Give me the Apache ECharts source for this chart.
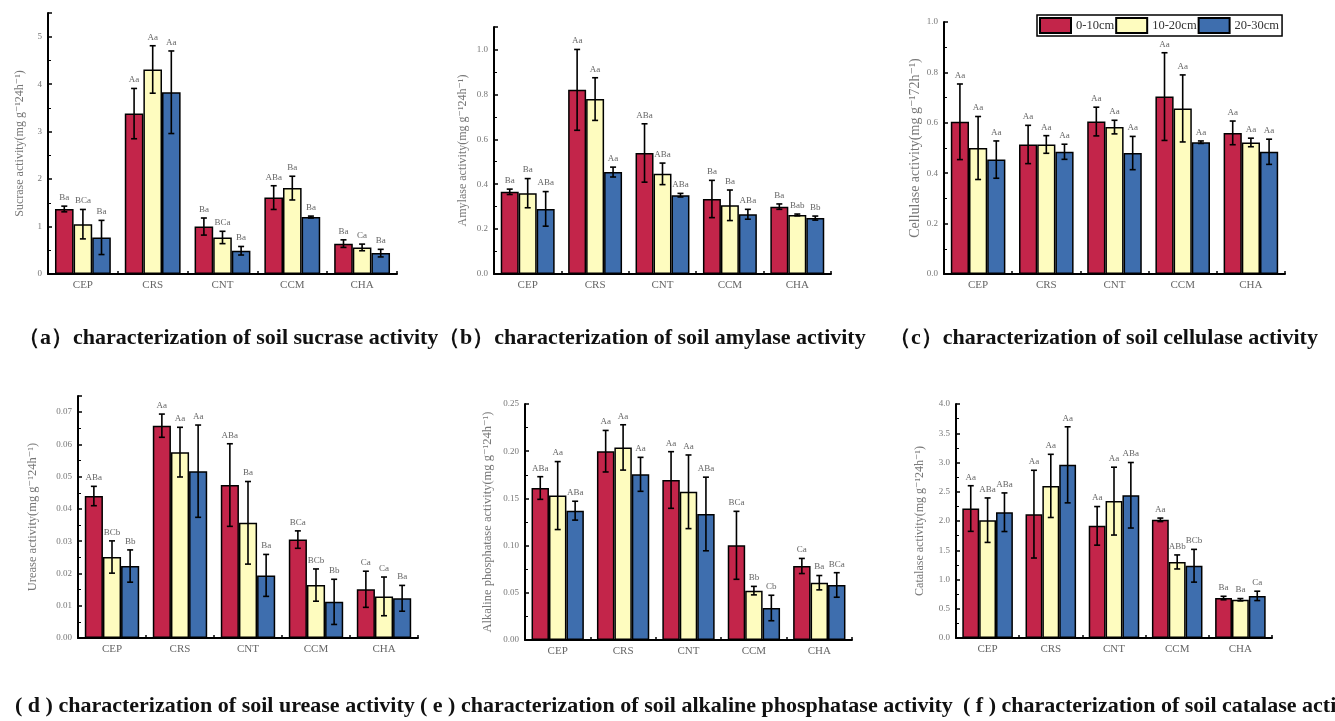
<!DOCTYPE html>
<html><head><meta charset="utf-8">
<script src="https://cdn.jsdelivr.net/npm/echarts@6/dist/echarts.min.js"></script>
<style>html,body{margin:0;padding:0;background:#fff}#c{width:1335px;height:721px}</style>
</head><body><div id="c"></div>
<script>
const categories = ['CEP','CRS','CNT','CCM','CHA'];
const depths = ['0-10cm','10-20cm','20-30cm'];
const depthColors = ['#C3254A','#FEFCBF','#3E6EAE'];

// rows = depth (0-10, 10-20, 20-30), columns = CEP, CRS, CNT, CCM, CHA
const sucraseMean = [[1.37,3.38,1.00,1.61,0.64],[1.05,4.31,0.77,1.81,0.56],[0.77,3.83,0.49,1.20,0.44]];
const sucraseErr  = [[0.06,0.53,0.18,0.25,0.08],[0.31,0.50,0.13,0.25,0.07],[0.36,0.87,0.09,0.02,0.08]];
const sucraseSig  = [['Ba','Aa','Ba','ABa','Ba'],['BCa','Aa','BCa','Ba','Ca'],['Ba','Aa','Ba','Ba','Ba']];

const amylaseMean = [[0.366,0.82,0.539,0.334,0.30],[0.36,0.779,0.446,0.306,0.263],[0.29,0.454,0.351,0.266,0.249]];
const amylaseErr  = [[0.012,0.18,0.13,0.083,0.012],[0.065,0.095,0.048,0.068,0.004],[0.077,0.022,0.008,0.022,0.009]];
const amylaseSig  = [['Ba','Aa','ABa','Ba','Ba'],['Ba','Aa','ABa','Ba','Bab'],['ABa','Aa','ABa','ABa','Bb']];

const cellulaseMean = [[0.604,0.514,0.605,0.704,0.56],[0.50,0.514,0.583,0.657,0.522],[0.454,0.485,0.48,0.523,0.485]];
const cellulaseErr  = [[0.15,0.076,0.057,0.174,0.047],[0.125,0.035,0.027,0.133,0.017],[0.074,0.03,0.066,0.005,0.05]];
const cellulaseSig  = [['Aa','Aa','Aa','Aa','Aa'],['Aa','Aa','Aa','Aa','Aa'],['Aa','Aa','Aa','Aa','Aa']];

const ureaseMean = [[0.0440,0.0658,0.0474,0.0305,0.0151],[0.0251,0.0576,0.0357,0.0164,0.0129],[0.0223,0.0517,0.0194,0.0112,0.0123]];
const ureaseErr  = [[0.003,0.0036,0.0128,0.0027,0.0056],[0.005,0.0077,0.0128,0.005,0.006],[0.005,0.0143,0.0065,0.007,0.004]];
const ureaseSig  = [['ABa','Aa','ABa','BCa','Ca'],['BCb','Aa','Ba','BCb','Ca'],['Bb','Aa','Ba','Bb','Ba']];

const phosMean = [[0.161,0.200,0.1695,0.1003,0.0784],[0.153,0.204,0.157,0.0523,0.0607],[0.137,0.1755,0.1335,0.0339,0.0583]];
const phosErr  = [[0.012,0.022,0.03,0.036,0.008],[0.036,0.024,0.039,0.0045,0.0076],[0.01,0.018,0.039,0.0135,0.013]];
const phosSig  = [['ABa','Aa','Aa','BCa','Ca'],['Aa','Aa','Aa','Bb','Ba'],['ABa','Aa','ABa','Cb','BCa']];

const catalaseMean = [[2.213,2.117,1.917,2.02,0.683],[2.014,2.60,2.34,1.30,0.654],[2.15,2.96,2.44,1.235,0.72]];
const catalaseErr  = [[0.39,0.75,0.33,0.03,0.03],[0.38,0.54,0.58,0.12,0.02],[0.33,0.65,0.56,0.28,0.08]];
const catalaseSig  = [['Aa','Aa','Aa','Aa','Ba'],['ABa','Aa','Aa','ABb','Ba'],['ABa','Aa','ABa','BCb','Ca']];

const yNames = ['Sucrase activity(mg g\u207B\u00B924h\u207B\u00B9)','Amylase activity(mg g\u207B\u00B924h\u207B\u00B9)',
  'Cellulase activity(mg g\u207B\u00B972h\u207B\u00B9)','Urease activity(mg g\u207B\u00B924h\u207B\u00B9)',
  'Alkaline phosphatase activity(mg g\u207B\u00B924h\u207B\u00B9)','Catalase activity(mg g\u207B\u00B924h\u207B\u00B9)'];
const yMax = [5.5, 1.1, 1.0, 0.075, 0.25, 4.0];
const yInterval = [1, 0.2, 0.2, 0.01, 0.05, 0.5];
const yDecimals = [0, 1, 1, 2, 2, 1];
const captionsTop = ['\uFF08a\uFF09characterization of soil sucrase activity','\uFF08b\uFF09characterization of soil amylase activity','\uFF08c\uFF09characterization of soil cellulase activity'];
const captionsBottom = ['( d ) characterization of soil urease activity','( e ) characterization of soil alkaline phosphatase activity','( f ) characterization of soil catalase activity'];

const panelMeans = [sucraseMean, amylaseMean, cellulaseMean, ureaseMean, phosMean, catalaseMean];
const panelErrs = [sucraseErr, amylaseErr, cellulaseErr, ureaseErr, phosErr, catalaseErr];
const panelSigs = [sucraseSig, amylaseSig, cellulaseSig, ureaseSig, phosSig, catalaseSig];

const grids = [
  {left:48, top:13, width:349, height:261},
  {left:494, top:27, width:337, height:247},
  {left:944, top:22, width:341, height:252},
  {left:78, top:396, width:340, height:242},
  {left:525, top:404, width:327, height:236},
  {left:956, top:404, width:316, height:234}
];
const nameGaps = [22, 25, 22, 39, 31, 30];
const nameSizes = [12, 12, 14, 12.5, 12.5, 12];
const SERIF = '"Liberation Serif", "DejaVu Serif", serif';
const GAP = 0.2;

const xAxes = [], yAxes = [], series = [];
for (let p = 0; p < 6; p++) {
  xAxes.push({
    type:'category', gridIndex:p, data:categories,
    axisLine:{lineStyle:{color:'#000', width:2}},
    axisTick:{show:true, inside:true, length:3, lineStyle:{color:'#000', width:1.5}},
    axisLabel:{color:'#666', fontSize:11, fontFamily:SERIF, margin:6}
  });
  const dec = yDecimals[p];
  yAxes.push({
    type:'value', gridIndex:p, min:0, max:yMax[p], interval:yInterval[p],
    name:yNames[p], nameLocation:'middle', nameGap:nameGaps[p],
    nameTextStyle:{color:'#777', fontSize:nameSizes[p], fontFamily:SERIF},
    axisLine:{show:true, lineStyle:{color:'#000', width:2}},
    axisTick:{show:true, inside:true, length:4, lineStyle:{color:'#000', width:1.5}},
    minorTick:{show:true, splitNumber:2, length:3, lineStyle:{color:'#000', width:1}},
    splitLine:{show:false},
    axisLabel:{color:'#777', fontSize:9, fontFamily:SERIF, margin:6,
      formatter:(v)=>{ const r = Math.round(v/yInterval[p]); if (Math.abs(v - r*yInterval[p]) > 1e-9) return ''; return v.toFixed(dec); }}
  });
  for (let d = 0; d < 3; d++) {
    series.push({
      type:'bar', name:depths[d], xAxisIndex:p, yAxisIndex:p,
      data:panelMeans[p][d], barGap:'0%', barCategoryGap:(GAP*100)+'%',
      itemStyle:{color:depthColors[d], borderColor:'#000', borderWidth:1.5},
      emphasis:{disabled:true}, z:2
    });
  }
  for (let d = 0; d < 3; d++) {
    const sig = panelSigs[p][d];
    const data = categories.map((c, i) => [i, panelMeans[p][d][i], panelErrs[p][d][i]]);
    series.push({
      type:'custom', name:'err'+p+'_'+d, xAxisIndex:p, yAxisIndex:p, z:5,
      data:data, encode:{x:0, y:1},
      renderItem:function(params, api){
        const ci = api.value(0), v = api.value(1), e = api.value(2);
        const band = api.size([1,0])[0];
        const bw = band*(1-GAP)/3;
        const x = api.coord([ci, v])[0] - band*(1-GAP)/2 + (d+0.5)*bw;
        const yT = api.coord([ci, v+e])[1];
        const yB = api.coord([ci, v-e])[1];
        const cap = 3;
        const ls = {stroke:'#000', lineWidth:1.6};
        return {type:'group', children:[
          {type:'line', shape:{x1:x,y1:yT,x2:x,y2:yB}, style:ls},
          {type:'line', shape:{x1:x-cap,y1:yT,x2:x+cap,y2:yT}, style:ls},
          {type:'line', shape:{x1:x-cap,y1:yB,x2:x+cap,y2:yB}, style:ls},
          {type:'text', x:x, y:yT-4, style:{text:sig[params.dataIndex], textAlign:'center', textVerticalAlign:'bottom',
            fill:'#666', font:'9px '+SERIF}}
        ]};
      }
    });
  }
}

const graphics = [];
const topX = [18, 438, 889];
const botX = [15, 420, 963];
for (let i = 0; i < 3; i++) {
  graphics.push({type:'text', x:topX[i], y:338, style:{text:captionsTop[i], font:'bold 22px '+SERIF, fill:'#111', textVerticalAlign:'middle'}});
  graphics.push({type:'text', x:botX[i], y:706, style:{text:captionsBottom[i], font:'bold 22px '+SERIF, fill:'#111', textVerticalAlign:'middle'}});
}

const chart = echarts.init(document.getElementById('c'), null, {renderer:'canvas'});
chart.setOption({
  animation:false,
  backgroundColor:'#fff',
  grid:grids,
  xAxis:xAxes,
  yAxis:yAxes,
  legend:{
    data:depths, left:1037, top:15, orient:'horizontal',
    padding:[2,3,2,2], itemGap:1, itemWidth:31, itemHeight:15, icon:'rect',
    borderColor:'#000', borderWidth:1.5,
    textStyle:{color:'#333', fontSize:12.5, fontFamily:SERIF}
  },
  series:series,
  graphic:graphics
});
</script>
</body></html>
